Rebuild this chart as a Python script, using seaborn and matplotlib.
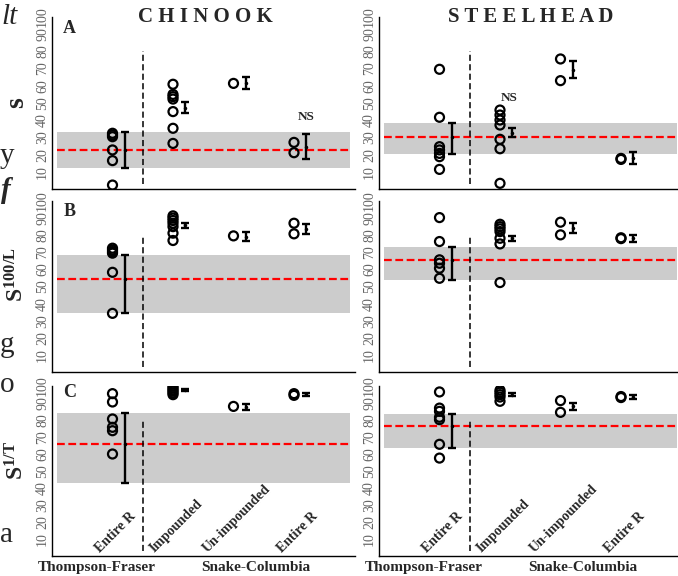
import matplotlib
matplotlib.use("Agg")
import matplotlib.pyplot as plt
import seaborn as sns
import pandas as pd
import numpy as np

# ---------------- data ----------------
categories = ["Entire R", "Impounded", "Un-impounded", "Entire R"]
cat_x = [1, 2, 3, 4]
groups = ["Thompson-Fraser", "Snake-Columbia"]
species = ["C H I N O O K", "S T E E L H E A D"]
metrics = ["s", "S", "S"]
metric_sup = ["", "100/L", "1/T"]
panel_letters = ["A", "B", "C"]
yticks = [10, 20, 30, 40, 50, 60, 70, 80, 90, 100]

# Chinook, s
chin_s_pts = [[32.4, 31.4, 30.4, 22.7, 16.5, 2.3],
              [60.9, 55.0, 53.7, 52.3, 45.0, 35.3, 26.5],
              [61.4],
              [27.1, 21.1]]
chin_s_mean = [22.7, 46.9, 61.4, 24.6]
chin_s_lo = [12.0, 44.0, 58.0, 17.2]
chin_s_hi = [33.0, 50.8, 65.0, 32.0]

# Steelhead, s
steel_s_pts = [[69.6, 41.7, 24.6, 22.7, 20.7, 18.8, 11.4],
               [45.9, 43.0, 40.1, 37.2, 28.9, 23.4, 3.3],
               [75.6, 63.0],
               [17.8, 17.2]]
steel_s_mean = [30.0, 32.8, 69.2, 17.8]
steel_s_lo = [20.3, 30.4, 64.3, 14.3]
steel_s_hi = [38.6, 35.7, 74.4, 21.3]

# Chinook, s^(100/L)
chin_L_pts = [[72.4, 71.4, 70.4, 69.5, 58.3, 34.3],
              [91.3, 90.0, 88.6, 87.0, 85.0, 81.2, 76.9],
              [79.6],
              [87.0, 80.8]]
chin_L_mean = [54.4, 85.7, 79.2, 83.5]
chin_L_lo = [34.3, 84.1, 76.7, 80.6]
chin_L_hi = [68.5, 87.0, 81.8, 86.4]

# Steelhead, s^(100/L)
steel_L_pts = [[90.3, 76.3, 65.6, 63.6, 60.7, 54.8],
               [86.4, 85.0, 83.7, 82.1, 78.2, 74.9, 52.3],
               [87.6, 80.2],
               [78.5, 78.0]]
steel_L_mean = [65.6, 78.2, 84.1, 78.2]
steel_L_lo = [53.9, 76.7, 81.2, 76.3]
steel_L_hi = [73.0, 79.8, 87.0, 80.2]

# Chinook, s^(1/T)
chin_T_pts = [[95.5, 90.6, 80.6, 75.7, 73.7, 60.0],
              [99.8, 98.8, 97.8, 96.9, 95.9, 94.9],
              [88.0],
              [95.5, 94.5]]
chin_T_mean = [65.9, 97.8, 87.6, 95.1]
chin_T_lo = [42.9, 97.3, 86.1, 94.1]
chin_T_hi = [84.1, 98.4, 89.4, 96.1]

# Steelhead, s^(1/T)
steel_T_pts = [[96.5, 87.0, 85.1, 81.6, 80.2, 65.7, 57.6],
               [97.5, 96.3, 94.9, 93.5, 91.0],
               [91.4, 84.5],
               [93.8, 93.2]]
steel_T_mean = [76.7, 94.9, 88.0, 93.5]
steel_T_lo = [63.5, 93.9, 86.1, 92.4]
steel_T_hi = [83.5, 95.9, 90.0, 94.7]

# "NS" annotations: (row, col, x, y)
ns_labels = [(0, 0, 4.2, 42.0), (0, 1, 2.15, 53.0)]

panels = [
    [(chin_s_pts, chin_s_mean, chin_s_lo, chin_s_hi),
     (steel_s_pts, steel_s_mean, steel_s_lo, steel_s_hi)],
    [(chin_L_pts, chin_L_mean, chin_L_lo, chin_L_hi),
     (steel_L_pts, steel_L_mean, steel_L_lo, steel_L_hi)],
    [(chin_T_pts, chin_T_mean, chin_T_lo, chin_T_hi),
     (steel_T_pts, steel_T_mean, steel_T_lo, steel_T_hi)],
]

# ---------------- style ----------------
sns.set_style("white")
serif = ["Liberation Serif", "DejaVu Serif"]
plt.rcParams["font.family"] = serif
plt.rcParams["mathtext.fontset"] = "custom"
plt.rcParams["mathtext.rm"] = "Liberation Serif"
plt.rcParams["mathtext.bf"] = "Liberation Serif:bold"
plt.rcParams["mathtext.it"] = "Liberation Serif:italic"

W, H = 678, 576
fig = plt.figure(figsize=(W / 100, H / 100), dpi=100)

col_left = [52 / W, 379 / W]
col_width = 302.5 / W
row_px = [(17, 189), (201, 372), (386, 556)]

letter_y = [0.936, 0.936, 0.96]

for r in range(3):
    top, bot = row_px[r]
    for c in range(2):
        ax = fig.add_axes([col_left[c], 1 - bot / H, col_width, (bot - top) / H])
        pts, mean, lo, hi = panels[r][c]
        # band from Thompson-Fraser estimate
        ax.fill_between([0.08, 4.93], [lo[0]] * 2, [hi[0]] * 2,
                        color="#cccccc", lw=0, zorder=0)
        ax.plot([0.08, 4.93], [mean[0]] * 2, color="red", lw=1.6,
                ls=(0, (3.5, 1.6)), zorder=3)
        ax.plot([1.5, 1.5], [3, 80], color="black", lw=1.1,
                ls=(0, (4, 2.2)), zorder=3)
        df = pd.DataFrame({
            "x": [cat_x[i] for i in range(4) for _ in pts[i]],
            "y": [v for i in range(4) for v in pts[i]],
        })
        sns.scatterplot(data=df, x="x", y="y", ax=ax, marker="o", s=42,
                        linewidth=1.6, edgecolor="black", legend=False,
                        zorder=4)
        ax.collections[-1].set_facecolor("none")
        ax.collections[-1].set_edgecolor("black")
        ex = [v + 0.2 for v in cat_x]
        ax.errorbar(ex, mean,
                    yerr=[np.array(mean) - np.array(lo), np.array(hi) - np.array(mean)],
                    fmt=".", color="black", ms=3, elinewidth=1.7,
                    capsize=3.2, capthick=1.7, zorder=5)
        ax.set_xlim(0, 5)
        ax.set_ylim(0, 100)
        ax.set_xticks([1, 2, 3, 4, 5])
        ax.set_xticklabels([])
        ax.set_yticks(yticks)
        ax.set_yticklabels([str(t) for t in yticks], rotation=90,
                           va="center", color="#666666", fontsize=10)
        ax.tick_params(axis="both", direction="in", length=3, width=0.8,
                       color="black", pad=2)
        ax.tick_params(axis="x", length=4)
        ax.set_xlabel("")
        ax.set_ylabel("")
        for s in ["top", "right"]:
            ax.spines[s].set_visible(False)
        for s in ["left", "bottom"]:
            ax.spines[s].set_color("black")
            ax.spines[s].set_linewidth(1.0)
        ax.patch.set_alpha(0)
        if c == 0:
            ax.text(0.037, letter_y[r], panel_letters[r], transform=ax.transAxes,
                    fontsize=13, fontweight="bold", ha="left", va="center")
        for (rr, cc, nx, ny) in ns_labels:
            if rr == r and cc == c:
                ax.text(nx, ny, "NS", fontsize=9.5, fontweight="bold",
                        ha="center", va="center")
        if r == 2:
            for i, lab in enumerate(categories):
                ax.text(cat_x[i] + 0.06, 0.8, lab, rotation=45, ha="center",
                        va="bottom", fontsize=10, fontweight="bold")
            ax.text(0.74, -0.07, groups[0], transform=ax.get_xaxis_transform(),
                    ha="center", va="center", fontsize=11, fontweight="bold")
            ax.text(3.36, -0.07, groups[1], transform=ax.get_xaxis_transform(),
                    ha="center", va="center", fontsize=11, fontweight="bold")

# titles
fig.text(205 / W, 1 - 17 / H, species[0], ha="center", va="center",
         fontsize=15, fontweight="bold")
fig.text(531 / W, 1 - 17 / H, species[1], ha="center", va="center",
         fontsize=15, fontweight="bold")

# y labels
ylab_pos = [(17, 103), (17, 275), (17, 460)]
for r in range(3):
    x, y = ylab_pos[r]
    if metric_sup[r]:
        lab = r"$\mathbf{" + metrics[r] + r"}^{\mathbf{" + metric_sup[r] + r"}}$"
        fs = 17
    else:
        lab = r"$\mathbf{" + metrics[r] + r"}$"
        fs = 20
    fig.text(x / W, 1 - y / H, lab, rotation=90, ha="center", va="center",
             fontsize=fs)

# fragments of surrounding page text along the left edge
frags = [("lt", 1, 24, "italic", "normal"),
         ("y", 0, 163, "normal", "normal"),
         ("f", 1, 198, "italic", "bold"),
         ("g", 0, 352, "normal", "normal"),
         ("o", 0, 392, "normal", "normal"),
         ("a", 0, 542, "normal", "normal")]
for t, x, y, st, wt in frags:
    fig.text(x / W, 1 - y / H, t, ha="left", va="baseline", fontsize=21,
             style=st, fontweight=wt)

fig.savefig("out.png", dpi=100)
